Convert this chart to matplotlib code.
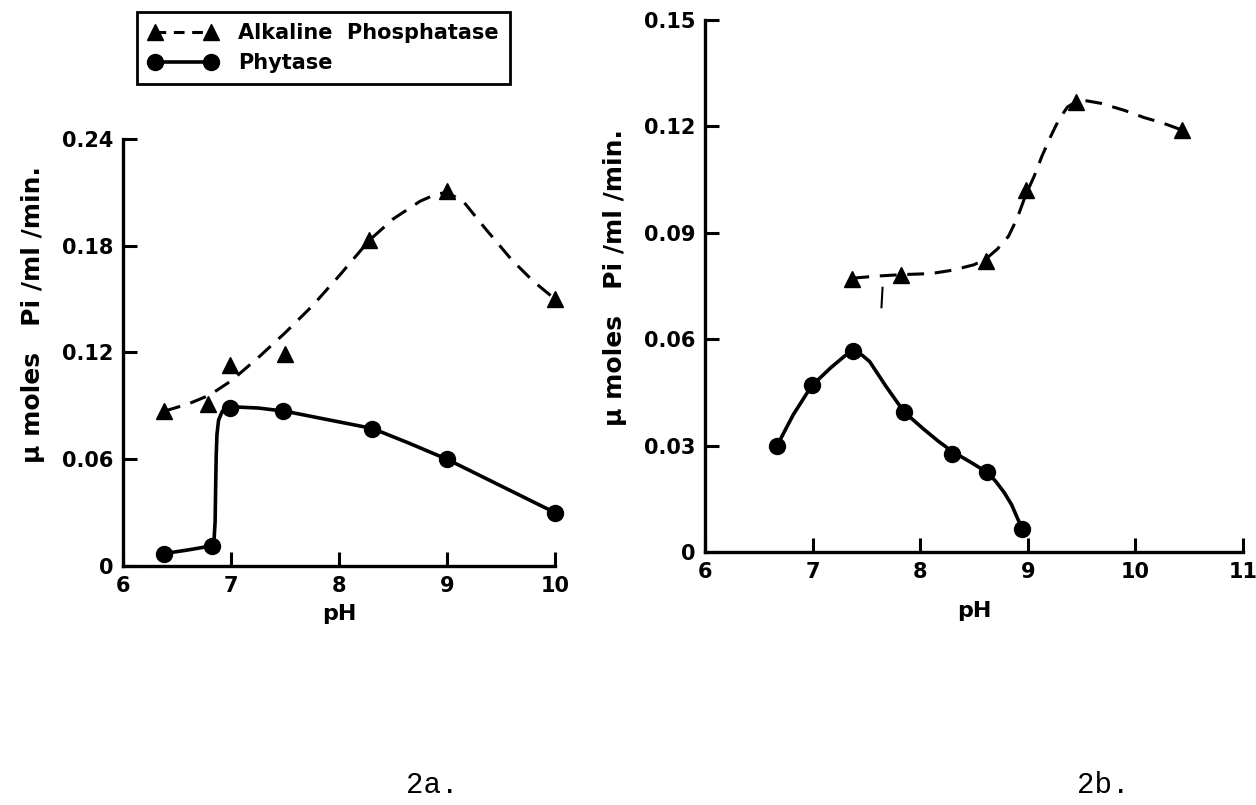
import matplotlib
matplotlib.use("Agg")
import matplotlib.pyplot as plt
from matplotlib.lines import Line2D

# ---------------- data ----------------
# Panel 2a
a_ap_ph = [6.38, 6.79, 6.99, 7.50, 8.28, 9.00, 10.00]
a_ap_val = [0.087, 0.091, 0.113, 0.119, 0.183, 0.211, 0.150]
a_phy_ph = [6.38, 6.82, 6.99, 7.48, 8.31, 9.00, 10.00]
a_phy_val = [0.007, 0.0115, 0.089, 0.087, 0.077, 0.060, 0.030]

# hand-drawn curves of panel 2a
a_ap_curve_ph = [6.38, 6.6, 6.8, 7.0, 7.25, 7.5, 7.75, 8.0, 8.28, 8.5, 8.75,
                 8.9, 9.0, 9.15, 9.35, 9.6, 9.8, 10.0]
a_ap_curve_val = [0.087, 0.091, 0.096, 0.104, 0.117, 0.131, 0.146, 0.163, 0.183,
                  0.195, 0.205, 0.209, 0.210, 0.205, 0.190, 0.172, 0.160, 0.150]
a_phy_curve_ph = [6.38, 6.6, 6.84, 6.853, 6.858, 6.863, 6.87, 6.885, 6.92, 6.96,
                  7.0, 7.25, 7.5, 8.0, 8.31, 8.65, 9.0, 9.5, 10.0]
a_phy_curve_val = [0.007, 0.009, 0.0115, 0.025, 0.045, 0.062, 0.074, 0.082, 0.087,
                   0.089, 0.0895, 0.0888, 0.087, 0.081, 0.0773, 0.069, 0.060, 0.045,
                   0.030]

# Panel 2b
b_ap_ph = [7.37, 7.82, 8.61, 8.985, 9.45, 10.43]
b_ap_val = [0.077, 0.078, 0.082, 0.102, 0.127, 0.119]
b_phy_ph = [6.67, 6.99, 7.38, 7.85, 8.30, 8.62, 8.95]
b_phy_val = [0.030, 0.047, 0.0566, 0.0395, 0.0277, 0.0225, 0.0064]

b_ap_curve_ph = [7.37, 7.6, 7.82, 8.1, 8.31, 8.5, 8.61, 8.72, 8.82, 8.9, 8.985,
                 9.06, 9.13, 9.21, 9.29, 9.37, 9.45, 9.55, 9.68, 9.9, 10.08, 10.25, 10.43]
b_ap_curve_val = [0.0772, 0.0778, 0.0782, 0.0785, 0.0795, 0.081, 0.0826, 0.0855,
                  0.089, 0.094, 0.101, 0.106, 0.1115, 0.117, 0.122, 0.1255, 0.127,
                  0.1272, 0.1265, 0.1245, 0.1225, 0.121, 0.119]
b_phy_curve_ph = [6.67, 6.82, 6.99, 7.17, 7.30, 7.38, 7.46, 7.53, 7.68, 7.85, 8.03,
                  8.17, 8.30, 8.47, 8.62, 8.70, 8.78, 8.85, 8.90, 8.95]
b_phy_curve_val = [0.030, 0.0387, 0.0468, 0.052, 0.0553, 0.0566, 0.0555, 0.0537,
                   0.0468, 0.0395, 0.0347, 0.0312, 0.0283, 0.0253, 0.0225, 0.0200,
                   0.0168, 0.0133, 0.0098, 0.0064]

# stray pencil mark in panel 2b
b_mark_ph = [7.65, 7.64]
b_mark_val = [0.0745, 0.069]

a_xticks = [6, 7, 8, 9, 10]
a_yticks = [0, 0.06, 0.12, 0.18, 0.24]
a_yticklabels = ["0", "0.06", "0.12", "0.18", "0.24"]
b_xticks = [6, 7, 8, 9, 10, 11]
b_yticks = [0, 0.03, 0.06, 0.09, 0.12, 0.15]
b_yticklabels = ["0", "0.03", "0.06", "0.09", "0.12", "0.15"]

ylabel = "\u03bc moles   Pi /ml /min."
xlabel = "pH"
legend_labels = ["Alkaline  Phosphatase", "Phytase"]

# ---------------- figure ----------------
W, H = 1256, 805
fig = plt.figure(figsize=(W / 100, H / 100), dpi=100)
plt.rcParams['font.family'] = ['DejaVu Sans']

FS = 15
LW = 2.2
DASH = (0, (5.5, 3.5))


def style_axes(ax, xticks, yticks, yticklabels, xlim, ylim):
    ax.set_xlim(*xlim)
    ax.set_ylim(*ylim)
    for s in ("top", "right"):
        ax.spines[s].set_visible(False)
    for s in ("left", "bottom"):
        ax.spines[s].set_linewidth(2.4)
    ax.set_xticks(xticks)
    ax.set_yticks(yticks)
    ax.set_xticklabels([str(t) for t in xticks], fontsize=FS, fontweight='bold')
    ax.set_yticklabels(yticklabels, fontsize=FS, fontweight='bold')
    ax.tick_params(direction='in', length=10, width=2.2, pad=7)
    ax.patch.set_alpha(0)


# panel 2a
ax1 = fig.add_axes([123 / W, 1 - 566 / H, (555 - 123) / W, (566 - 139) / H])
style_axes(ax1, a_xticks, a_yticks, a_yticklabels, (6, 10), (0, 0.24))
ax1.plot(a_ap_curve_ph, a_ap_curve_val, color='black', lw=LW, ls=DASH,
         clip_on=False)
ax1.plot(a_phy_curve_ph, a_phy_curve_val, color='black', lw=2.6, clip_on=False)
ax1.plot(a_ap_ph, a_ap_val, ls='none', marker='^', ms=12, color='black', clip_on=False)
ax1.plot(a_phy_ph, a_phy_val, ls='none', marker='o', ms=11.5, color='black', clip_on=False)
ax1.set_xlabel(xlabel, fontsize=16, fontweight='bold', labelpad=6)
ax1.set_ylabel(ylabel, fontsize=18, fontweight='bold')
ax1.yaxis.set_label_coords((45 - 123) / 432, (566 - 315) / 427)

# panel 2b
ax2 = fig.add_axes([705 / W, 1 - 552 / H, (1243 - 705) / W, (552 - 20) / H])
style_axes(ax2, b_xticks, b_yticks, b_yticklabels, (6, 11), (0, 0.15))
ax2.plot(b_ap_curve_ph, b_ap_curve_val, color='black', lw=LW, ls=DASH,
         clip_on=False)
ax2.plot(b_phy_curve_ph, b_phy_curve_val, color='black', lw=2.6, clip_on=False)
ax2.plot(b_ap_ph, b_ap_val, ls='none', marker='^', ms=12, color='black', clip_on=False)
ax2.plot(b_phy_ph, b_phy_val, ls='none', marker='o', ms=11.5, color='black', clip_on=False)
ax2.plot(b_mark_ph, b_mark_val, color='black', lw=1.5)
ax2.set_xlabel(xlabel, fontsize=16, fontweight='bold', labelpad=14)
ax2.set_ylabel(ylabel, fontsize=18, fontweight='bold')
ax2.yaxis.set_label_coords((627 - 705) / 538, (552 - 278) / 532)

# legend
handles = [
    Line2D([], [], color='black', lw=LW, ls=(0, (3.5, 2.5)), marker='^', ms=12),
    Line2D([], [], color='black', lw=2.6, marker='o', ms=11.5),
]
leg = fig.legend(handles, legend_labels, loc='upper left',
                 bbox_to_anchor=(137 / W, 1 - 12 / H), numpoints=2,
                 handlelength=3.3, handletextpad=1.0,
                 prop={'weight': 'bold', 'size': FS},
                 frameon=True, fancybox=False, framealpha=1, borderpad=0.55,
                 labelspacing=0.45, borderaxespad=0)
leg.get_frame().set_edgecolor('black')
leg.get_frame().set_linewidth(2.0)

# panel captions
cap_font = ['Liberation Mono', 'DejaVu Sans Mono']
fig.text(432 / W, 1 - 785 / H, "2a.", fontsize=21, family=cap_font,
         ha='center', va='center')
fig.text(1103 / W, 1 - 785 / H, "2b.", fontsize=21, family=cap_font,
         ha='center', va='center')

fig.savefig("out.png", dpi=100, facecolor='white')
